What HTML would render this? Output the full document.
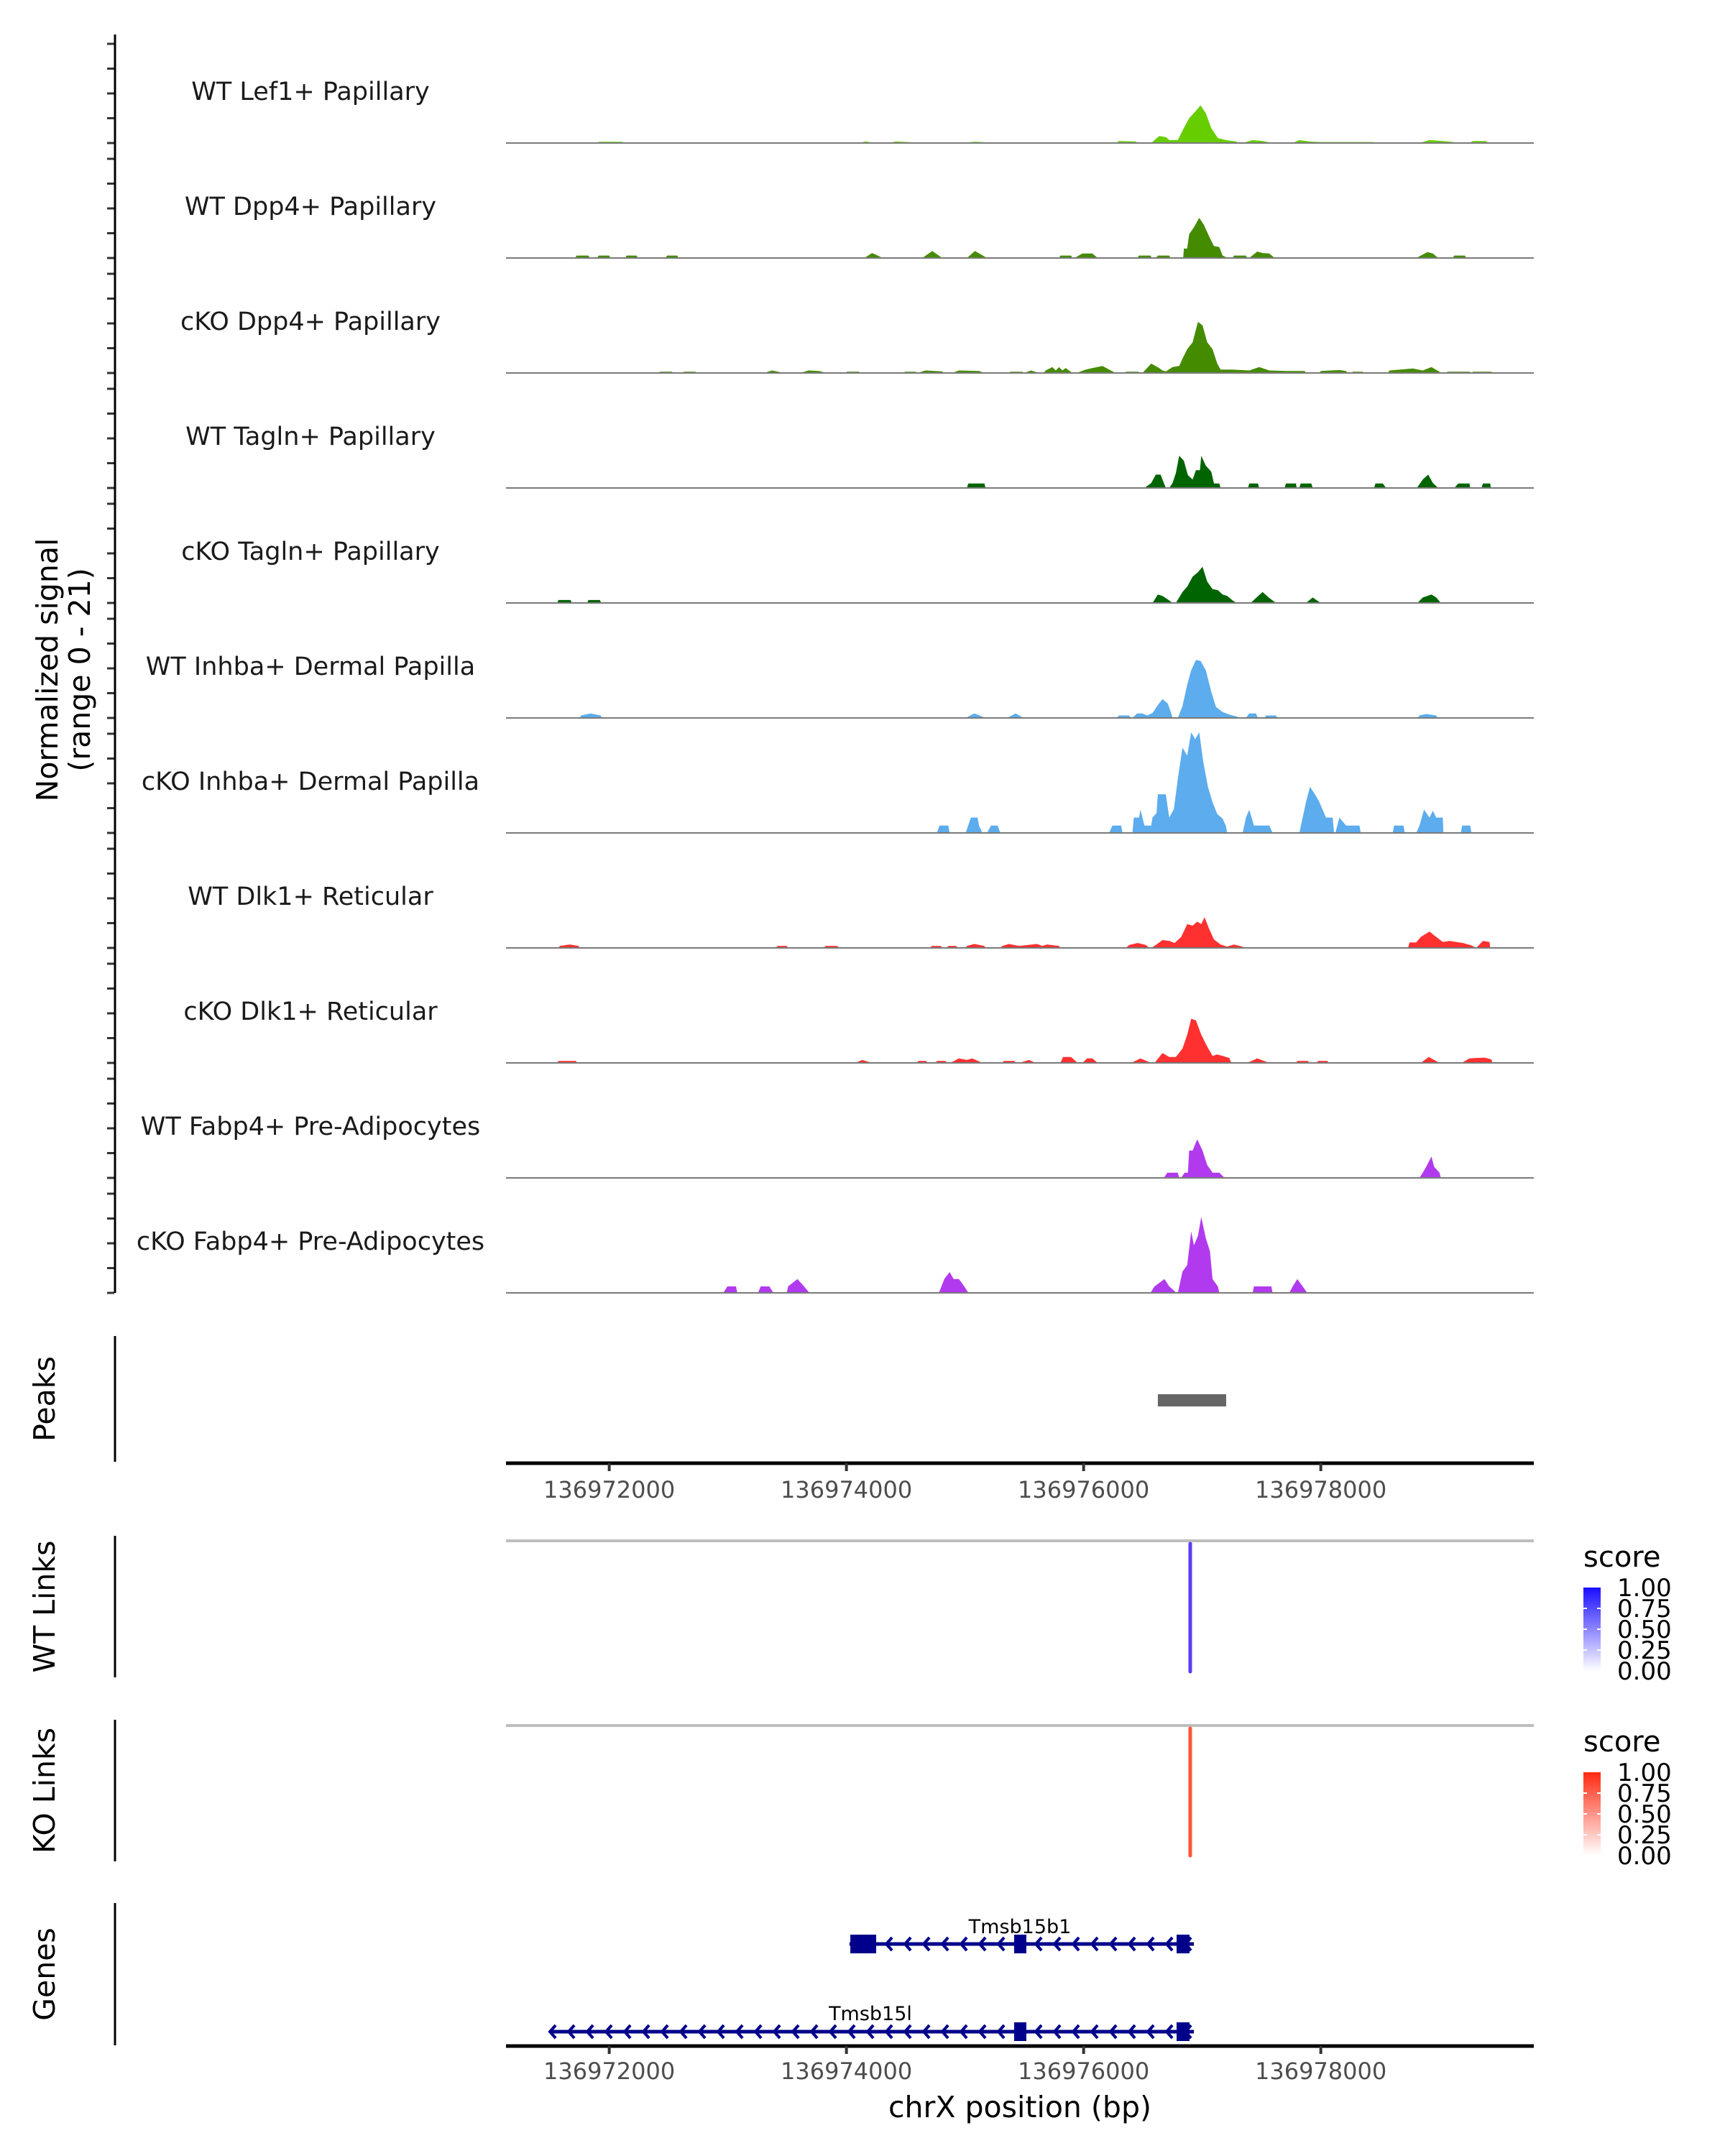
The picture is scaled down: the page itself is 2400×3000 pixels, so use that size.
<!DOCTYPE html>
<html><head><meta charset="utf-8"><style>
html,body{margin:0;padding:0;background:#fff;}
svg{display:block;font-family:"DejaVu Sans","Liberation Sans",sans-serif;}
</style></head><body>
<svg id="chart" xmlns="http://www.w3.org/2000/svg" width="2400" height="3000" viewBox="0 0 2400 3000">
<defs>
<linearGradient id="gWT" x1="0" y1="0" x2="0" y2="1"><stop offset="0" stop-color="#1a0dff"/><stop offset="1" stop-color="#ffffff"/></linearGradient>
<linearGradient id="gKO" x1="0" y1="0" x2="0" y2="1"><stop offset="0" stop-color="#ff2a12"/><stop offset="1" stop-color="#ffffff"/></linearGradient>
</defs>
<g id="signal"></g>
<g id="axes"></g>
</svg>
<script>
// ---- data ----
const regionStart = 136971178; // bp at plot x=712
const xTicks = [136972000, 136974000, 136976000, 136978000];
const trackNames = ["WT Lef1+ Papillary","WT Dpp4+ Papillary","cKO Dpp4+ Papillary","WT Tagln+ Papillary","cKO Tagln+ Papillary","WT Inhba+ Dermal Papilla","cKO Inhba+ Dermal Papilla","WT Dlk1+ Reticular","cKO Dlk1+ Reticular","WT Fabp4+ Pre-Adipocytes","cKO Fabp4+ Pre-Adipocytes"];
const trackColors = ["#66cd00","#458b00","#458b00","#006400","#006400","#5cacee","#5cacee","#ff3030","#ff3030","#b23aee","#b23aee"];
// signal: [bp offset from regionStart, normalized value]
const wtLef1 = [[349,0],[360,.15],[591,.15],[602,0],[720,0],[737,.25],[929,.25],[946,0],[2336,0],[2392,.15],[2504,0],[2927,0],[2983,.3],[3067,0],[3180,0],[3236,.3],[3377,.15],[3394,0],[3771,0],[3911,.25],[3996,.15],[4007,0],[4418,0],[4491,.15],[4559,0],[5093,0],[5121,.4],[5262,.3],[5274,0],[5392,0],[5459,1.4],[5515,1.2],[5544,.6],[5617,.6],[5656,2.5],[5712,5],[5769,6.5],[5808,7.6],[5853,6],[5898,3],[5954,1],[6022,.6],[6106,.3],[6135,0],[6163,0],[6247,.6],[6332,.4],[6416,0],[6585,0],[6641,.6],[6725,.3],[6810,.2],[7260,.2],[7288,0],[7654,0],[7739,.6],[7851,.4],[7935,.2],[7964,0],[8076,0],[8104,.4],[8217,.4],[8228,0]];
const wtDpp4 = [[535,0],[546,.5],[647,.5],[658,0],[720,0],[732,.5],[822,.5],[833,0],[957,0],[968,.5],[1052,.5],[1064,0],[1294,0],[1311,.5],[1396,.5],[1407,0],[2972,0],[3039,1],[3129,0],[3461,0],[3546,1.4],[3630,0],[3838,0],[3906,1.4],[4007,0],[4615,0],[4626,.5],[4716,.5],[4728,0],[4744,0],[4812,.9],[4896,.9],[4941,0],[5273,0],[5290,.5],[5386,.5],[5397,0],[5431,0],[5448,.5],[5544,.5],[5555,0],[5662,0],[5667,1.9],[5695,1.9],[5712,4.8],[5752,6.2],[5797,8.1],[5836,6.7],[5881,4.3],[5921,2.4],[5966,2.2],[5994,.5],[6039,0],[6078,0],[6089,.5],[6191,.5],[6202,0],[6219,0],[6286,1.3],[6331,1],[6388,.9],[6433,0],[7626,0],[7722,1.2],[7767,.9],[7812,0],[7935,0],[7947,.5],[8037,.5],[8048,0]];
const koDpp4 = [[1238,0],[1249,.25],[1351,.25],[1362,0],[1441,0],[1452,.25],[1548,.25],[1559,0],[2127,0],[2195,.5],[2296,0],[2431,0],[2504,.5],[2589,.4],[2656,0],[2814,0],[2825,.25],[2927,.25],[2938,0],[3304,0],[3315,.25],[3405,.25],[3422,0],[3489,.5],[3630,.3],[3641,0],[3714,0],[3771,.5],[3940,.4],[3985,0],[4193,0],[4204,.25],[4305,.25],[4322,0],[4379,.5],[4446,0],[4486,0],[4502,.5],[4559,1.2],[4587,.5],[4615,1.2],[4643,.5],[4671,1],[4728,0],[4761,0],[4840,.7],[4896,1],[4981,1.4],[5037,.7],[5093,0],[5167,0],[5178,.25],[5279,.25],[5318,0],[5392,1.9],[5459,1],[5487,.5],[5515,.3],[5572,1.2],[5628,1.4],[5656,2.9],[5696,4.8],[5741,6.2],[5786,10.3],[5825,9.6],[5864,6.2],[5909,4.8],[5949,1.9],[5977,.7],[6078,.7],[6219,.5],[6303,1.2],[6388,.5],[6528,.4],[6686,.4],[6697,0],[6810,0],[6821,.4],[6979,.6],[7035,.4],[7046,0],[7080,0],[7091,.25],[7176,.25],[7187,0],[7389,0],[7401,.5],[7598,.9],[7682,.5],[7755,1.2],[7840,0],[7879,0],[7890,.25],[8076,.25],[8093,0],[8104,.25],[8262,.25],[8273,0]];
const wtTagln = [[3838,0],[3849,.9],[3985,.9],[3996,0],[5335,0],[5392,1],[5431,2.7],[5471,2.7],[5487,1.7],[5515,0],[5544,0],[5572,1],[5600,3],[5628,6.5],[5667,5.5],[5701,2.6],[5741,1.7],[5769,3.6],[5803,3.6],[5814,6.5],[5853,4.5],[5898,3.3],[5921,.9],[5966,.9],[5977,0],[6208,0],[6219,.9],[6292,.9],[6303,0],[6517,0],[6528,.9],[6613,.9],[6618,0],[6641,0],[6652,.9],[6742,.9],[6754,0],[7271,0],[7283,.9],[7344,.9],[7373,0],[7632,0],[7682,1.7],[7727,2.7],[7767,1],[7812,0],[7947,0],[7981,.9],[8076,.9],[8082,0],[8177,0],[8189,.9],[8251,.9],[8256,0]];
const koTagln = [[383,0],[394,.6],[495,.6],[507,0],[636,0],[647,.6],[743,.6],[754,0],[5403,0],[5448,1.7],[5487,1.4],[5544,.5],[5572,0],[5600,0],[5656,2.2],[5696,3.3],[5741,5.3],[5786,6.2],[5825,7.3],[5864,4.3],[5909,2.8],[5954,2.6],[5994,1.7],[6033,1.4],[6078,.5],[6112,0],[6230,0],[6275,1],[6331,2.2],[6388,1],[6444,0],[6697,0],[6754,1.1],[6821,0],[7637,0],[7682,1.1],[7755,1.7],[7795,1.1],[7834,0]];
const wtInhba = [[574,0],[585,.5],[664,.9],[749,.5],[760,0],[3827,0],[3900,.9],[3996,0],[4176,0],[4249,.9],[4317,0],[5099,0],[5121,.5],[5206,.5],[5217,0],[5234,0],[5273,.9],[5318,.9],[5358,.5],[5403,1],[5448,2.6],[5487,3.8],[5532,2.9],[5560,1],[5572,0],[5617,0],[5656,2.4],[5696,6.7],[5729,9.6],[5769,11.7],[5808,11.5],[5853,9.6],[5898,5.3],[5938,2.2],[5994,1.2],[6050,.7],[6118,.25],[6135,0],[6191,0],[6219,.9],[6275,.9],[6292,0],[6348,0],[6360,.5],[6444,.5],[6455,0],[7637,0],[7654,.5],[7710,.8],[7795,.5],[7806,0]];
const koInhba = [[3585,0],[3607,1.5],[3681,1.5],[3692,0],[3827,0],[3872,3.1],[3928,3.1],[3940,1.5],[3968,0],[4007,0],[4041,1.5],[4097,1.5],[4120,0],[5037,0],[5065,1.5],[5138,1.5],[5150,0],[5234,0],[5245,3.1],[5290,3.1],[5301,4.7],[5335,1.5],[5392,1.5],[5403,3.1],[5437,4],[5448,7.8],[5515,7.8],[5544,3.1],[5583,4.8],[5617,11],[5656,17.2],[5696,15.6],[5729,20.3],[5763,18.9],[5797,20.3],[5830,14.4],[5870,9.3],[5909,6.2],[5949,3.8],[5994,2.9],[6022,1.4],[6033,0],[6163,0],[6191,3.1],[6219,4.7],[6258,1.5],[6388,1.5],[6416,0],[6641,0],[6669,3.1],[6697,6.2],[6731,9.3],[6770,7.9],[6810,6.2],[6866,3.1],[6922,3.1],[6934,0],[6945,0],[6979,3.1],[7035,1.5],[7148,1.5],[7159,0],[7429,0],[7440,1.5],[7519,1.5],[7530,0],[7626,0],[7654,1.5],[7693,4.7],[7739,3.1],[7767,4.5],[7795,3.1],[7851,3.1],[7856,0],[8003,0],[8014,1.5],[8082,1.5],[8093,0]];
const wtDlk1 = [[394,0],[405,.4],[490,.7],[563,.4],[574,0],[2229,0],[2240,.4],[2319,.4],[2330,0],[2634,0],[2645,.4],[2746,.4],[2758,0],[3529,0],[3540,.4],[3619,.4],[3630,0],[3669,0],[3681,.4],[3748,.4],[3760,0],[3827,0],[3838,.4],[3900,.8],[3985,.4],[3996,0],[4120,0],[4137,.4],[4193,.8],[4277,.4],[4429,.8],[4474,.4],[4514,.7],[4615,.4],[4626,0],[5178,0],[5206,.6],[5279,1],[5347,.6],[5375,0],[5392,0],[5431,.6],[5487,1.6],[5544,1.4],[5589,1],[5645,2.2],[5696,4.8],[5741,4.5],[5780,5.3],[5814,4.8],[5842,6.2],[5881,3.8],[5921,1.7],[5977,.7],[6033,.25],[6089,.7],[6163,.25],[6174,0],[7558,0],[7570,1.1],[7626,1.1],[7665,2.2],[7739,3.3],[7795,2.2],[7851,1.2],[7907,1.4],[7964,1.2],[8020,1],[8093,.5],[8132,0],[8189,1.4],[8245,1.2],[8251,0]];
const koDlk1 = [[383,0],[394,.4],[540,.4],[552,0],[2898,0],[2955,.6],[3039,0],[3416,0],[3428,.4],[3495,.4],[3506,0],[3574,0],[3585,.4],[3658,.4],[3669,0],[3698,0],[3771,.9],[3838,.6],[3883,.9],[3968,0],[4137,0],[4148,.4],[4238,.4],[4249,0],[4277,0],[4362,.6],[4418,0],[4626,0],[4649,1.2],[4716,1.2],[4772,0],[4812,0],[4851,.9],[4896,.9],[4941,0],[5223,0],[5301,.9],[5392,0],[5420,0],[5487,2],[5544,1.2],[5600,1.2],[5656,2.9],[5696,5.7],[5729,8.9],[5769,8.6],[5814,5.7],[5864,3.3],[5909,1.4],[5949,1.7],[5994,1.4],[6050,1],[6067,0],[6202,0],[6286,.9],[6388,0],[6613,0],[6624,.4],[6714,.4],[6725,0],[6787,0],[6798,.4],[6877,.4],[6889,0],[7665,0],[7733,1.2],[7823,0],[8009,0],[8076,.9],[8132,1],[8206,1.05],[8262,.7],[8268,0]];
const wtFabp4 = [[5499,0],[5527,1.05],[5617,1.05],[5628,0],[5645,0],[5673,1.05],[5701,1.05],[5712,5.5],[5741,5.5],[5780,7.8],[5825,5.5],[5864,2.6],[5909,1.05],[5966,1.05],[6011,0],[7654,0],[7682,1.05],[7710,2.2],[7755,4.3],[7778,2.2],[7823,1.05],[7834,0]];
const koFabp4 = [[1784,0],[1818,1.3],[1891,1.3],[1902,0],[2077,0],[2099,1.3],[2172,1.3],[2206,0],[2319,0],[2330,1.3],[2409,2.8],[2465,1.3],[2510,0],[3602,0],[3647,2.8],[3692,4.2],[3726,2.8],[3771,2.8],[3816,1.3],[3850,0],[5386,0],[5420,1.3],[5504,2.8],[5544,1.3],[5605,0],[5617,0],[5656,4.3],[5696,5.6],[5729,12.4],[5752,9.6],[5786,11.5],[5814,15.3],[5853,11],[5887,8.4],[5909,2.8],[5954,1.3],[5966,0],[6247,0],[6258,1.3],[6405,1.3],[6416,0],[6557,0],[6585,1.3],[6624,2.8],[6669,1.3],[6708,0]];
const signals = [wtLef1, wtDpp4, koDpp4, wtTagln, koTagln, wtInhba, koInhba, wtDlk1, koDlk1, wtFabp4, koFabp4];
const yTicks = [0, 5, 10, 15, 20];
const peakRegions = [[5448, 6024]];
const wtLinks = [[5721, 5721, 1.0]];
const koLinks = [[5721, 5721, 1.0]];
const legendTicks = ["1.00","0.75","0.50","0.25","0.00"];
const geneNames = ["Tmsb15b1","Tmsb15l"];
const geneSpans = [[2848, 5752],[321, 5752]];
const geneExons = [[[2855,3073],[4236,4339],[5606,5715]], [[4236,4339],[5606,5715]]];

// ---- scales ----
const PX0 = 712, PXPERBP = 0.165, PLOT_L = 704, PLOT_R = 2134;
function X(off){ return PX0 + off * PXPERBP; }
function Xbp(bp){ return X(bp - regionStart); }
const BASE0 = 199, TRACK_H = 160, PX_PER_UNIT = 6.9;
function trackBase(i){ return BASE0 + i * TRACK_H; }
function Y(i, v){ return trackBase(i) - v * PX_PER_UNIT; }

const NS = "http://www.w3.org/2000/svg";
function mk(tag, attrs, parent){ const e = document.createElementNS(NS, tag); for (const k in attrs) e.setAttribute(k, attrs[k]); parent.appendChild(e); return e; }
const sig = document.getElementById("signal");
const ax = document.getElementById("axes");

// signal tracks
signals.forEach((pts, i) => {
  const b = trackBase(i);
  let d = "M" + PLOT_L + "," + b;
  pts.forEach(p => { d += " L" + X(p[0]).toFixed(1) + "," + Y(i, p[1]).toFixed(1); });
  d += " L" + PLOT_R + "," + b + " Z";
  const area = mk("path", {d: d, fill: trackColors[i], stroke: "none"}, sig);
  
  
  const bl = mk("line", {x1: PLOT_L, x2: PLOT_R, y1: b, y2: b, stroke: "#7a7a7a", "stroke-width": 2}, sig);
  
  
  const t = mk("text", {x: 432, y: b - 60, "text-anchor": "middle", "font-size": 35, fill: "#1a1a1a"}, sig);
  t.textContent = trackNames[i];
  
  
  yTicks.forEach(v => {
    const tk = mk("line", {x1: 149, x2: 159, y1: Y(i, v), y2: Y(i, v), stroke: "#333", "stroke-width": 3}, ax);
    
    
  });
});
// left signal axis
const yl = mk("line", {x1: 160, x2: 160, y1: 48, y2: trackBase(10), stroke: "#000", "stroke-width": 3}, ax);


const yt = mk("text", {transform: "translate(80,932) rotate(-90)", "text-anchor": "middle", "font-size": 41, fill: "#000"}, ax);


const ts1 = mk("tspan", {x: 0, dy: 0}, yt); ts1.textContent = "Normalized signal";
const ts2 = mk("tspan", {x: 0, dy: 45}, yt); ts2.textContent = "(range 0 - 21)";

// panel side labels and axis lines
const panels = [["Peaks",1859,2034],["WT Links",2137,2334],["KO Links",2393,2590],["Genes",2648,2846]];
panels.forEach(p => {
  const l = mk("line", {x1: 160, x2: 160, y1: p[1], y2: p[2], stroke: "#000", "stroke-width": 3}, ax);
  
  
  const t = mk("text", {transform: "translate(76," + ((p[1] + p[2]) / 2) + ") rotate(-90)", "text-anchor": "middle", "font-size": 41, fill: "#000"}, ax);
  t.textContent = p[0];
  
  
});

// peaks
peakRegions.forEach(r => {
  const pr = mk("rect", {x: X(r[0]), y: 1940, width: X(r[1]) - X(r[0]), height: 17, fill: "#666666"}, ax);
  
  
});

// x axes
function xAxis(y, labelY, nm){
  const l = mk("line", {x1: PLOT_L, x2: PLOT_R, y1: y, y2: y, stroke: "#000", "stroke-width": 5}, ax);
  
  
  xTicks.forEach(bp => {
    const tk = mk("line", {x1: Xbp(bp), x2: Xbp(bp), y1: y, y2: y + 11, stroke: "#333", "stroke-width": 4}, ax);
    
    
    const t = mk("text", {x: Xbp(bp), y: labelY, "text-anchor": "middle", "font-size": 32, fill: "#4d4d4d"}, ax);
    t.textContent = String(bp);
    
    
  });
}
xAxis(2036, 2084, 'peaks-x-axis');
xAxis(2847, 2893, 'genes-x-axis');
const xt = mk("text", {x: 1419, y: 2946, "text-anchor": "middle", "font-size": 41, fill: "#000"}, ax);
xt.textContent = "chrX position (bp)";



// links
function links(arr, topY, botY, color, nm){
  const g = mk("line", {x1: PLOT_L, x2: PLOT_R, y1: topY, y2: topY, stroke: "#bebebe", "stroke-width": 4}, ax);
  
  
  arr.forEach(lk => {
    const ln = mk("path", {d: "M" + X(lk[0]) + "," + (topY + 4) + " L" + X(lk[1]) + "," + botY, stroke: color, "stroke-width": 5, fill: "none", "stroke-linecap": "round", opacity: lk[2]}, ax);
    
    
  });
}
links(wtLinks, 2144, 2326, "#5a3cf5", 'wt-link');
links(koLinks, 2401, 2582, "#ff5533", 'ko-link');

// legends
function legend(top, grad, nm){
  const t = mk("text", {x: 2203, y: top - 29, "font-size": 40, fill: "#000"}, ax);
  t.textContent = "score";
  
  
  const r = mk("rect", {x: 2203, y: top, width: 24, height: 116, fill: "url(#" + grad + ")"}, ax);
  
  
  legendTicks.forEach((lab, k) => {
    const yy = top + k * 29;
    if (k > 0 && k < 4) {
      mk("line", {x1: 2203, x2: 2208, y1: yy, y2: yy, stroke: "#fff", "stroke-width": 2}, ax);
      mk("line", {x1: 2222, x2: 2227, y1: yy, y2: yy, stroke: "#fff", "stroke-width": 2}, ax);
    }
    const tl = mk("text", {x: 2250, y: yy + 12, "font-size": 34, fill: "#000"}, ax);
    tl.textContent = lab;
    
    
  });
}
legend(2209, "gWT", 'wt');
legend(2466, "gKO", 'ko');

// genes
const geneY = [2705, 2827];
const labelPos = [[1419, 2690],[1211, 2811]];
geneSpans.forEach((s, gi) => {
  const y = geneY[gi], x1 = X(s[0]), x2 = X(s[1]);
  const col = "#00008b";
  const ln = mk("line", {x1: x1, x2: x2, y1: y, y2: y, stroke: col, "stroke-width": 5}, ax);
  
  
  for (let cx = x2 - 8; cx > x1 + 4; cx -= 26) {
    mk("polyline", {points: (cx + 4) + "," + (y - 9) + " " + (cx - 4) + "," + y + " " + (cx + 4) + "," + (y + 9), stroke: col, "stroke-width": 4, fill: "none"}, ax);
  }
  geneExons[gi].forEach(ex => {
    const r = mk("rect", {x: X(ex[0]), y: y - 13, width: X(ex[1]) - X(ex[0]), height: 26, fill: col}, ax);
    
    
  });
  const t = mk("text", {x: labelPos[gi][0], y: labelPos[gi][1], "text-anchor": "middle", "font-size": 27, fill: "#000"}, ax);
  t.textContent = geneNames[gi];
  
  
});
</script>
</body></html>
